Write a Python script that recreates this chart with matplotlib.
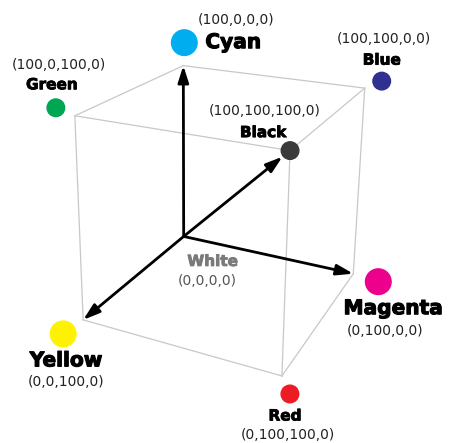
import numpy as np
import matplotlib.pyplot as plt
import matplotlib.patheffects as pe
from matplotlib.patches import Circle

# CMYK colour cube: corners and their ink values
names = ['White', 'Cyan', 'Magenta', 'Yellow', 'Blue', 'Green', 'Red', 'Black']
cmyk = [(0, 0, 0, 0), (100, 0, 0, 0), (0, 100, 0, 0), (0, 0, 100, 0),
        (100, 100, 0, 0), (100, 0, 100, 0), (0, 100, 100, 0), (100, 100, 100, 0)]
dot_colors = [None, '#00aeef', '#ec008c', '#fff200', '#2e3192', '#00a651', '#ed1c24', '#3a3a3a']
big = ['Cyan', 'Magenta', 'Yellow']

# camera: (c, m, y in 0..1, 1) -> pixel, perspective view of the cube
P = np.array([[-11.2752, 138.9504, -115.3026, 183.6760],
              [-174.7018, 13.4880, 26.5620, 236.4382],
              [-0.0595, -0.0868, -0.1778, 1.0]])


def project(v):
    h = P @ np.array([v[0] / 100, v[1] / 100, v[2] / 100, 1.0])
    return h[:2] / h[2]


# layout: dot offset from corner, name offset and coords offset from dot (pixels)
dot_off = {'White': (0, 0), 'Cyan': (1, -23), 'Magenta': (25, 8), 'Yellow': (-20, 14),
           'Blue': (17, -7), 'Green': (-19, -8), 'Red': (8, 18), 'Black': (0, 0)}
name_off = {'White': (29, 25), 'Cyan': (21, 0), 'Magenta': (15, 27), 'Yellow': (3, 27),
            'Blue': (0, -21), 'Green': (-4, -23), 'Red': (-5, 22), 'Black': (-27, -18)}
code_off = {'White': (24, 45), 'Cyan': (52, -23), 'Magenta': (7, 49), 'Yellow': (3, 48),
            'Blue': (2, -42), 'Green': (3, -43), 'Red': (-2, 41), 'Black': (-25, -40)}

fig = plt.figure(figsize=(4.5, 4.43), dpi=100)
ax = fig.add_axes([0, 0, 1, 1])
ax.set_xlim(0, 450)
ax.set_ylim(443, 0)
ax.axis('off')

corners = {n: project(v) for n, v in zip(names, cmyk)}

# cube edges: corners that differ in one ink only
for i in range(len(names)):
    for j in range(i + 1, len(names)):
        d = sum(abs(a - b) for a, b in zip(cmyk[i][:3], cmyk[j][:3]))
        if d == 100 and 'White' not in (names[i], names[j]):
            p1, p2 = corners[names[i]], corners[names[j]]
            ax.plot([p1[0], p2[0]], [p1[1], p2[1]], color='#c8c8c8', lw=0.9, zorder=1)

# arrows out of white
for n in ['Cyan', 'Magenta', 'Yellow', 'Black']:
    ax.annotate('', xy=corners[n], xytext=corners['White'],
                arrowprops=dict(arrowstyle='-|>,head_length=1.0,head_width=0.32',
                                color='black', lw=2.0, shrinkA=0,
                                shrinkB=7 if n == 'Black' else 0),
                zorder=3)

for n, col in zip(names, dot_colors):
    x, y = corners[n] + np.array(dot_off[n])
    if col is not None:
        r = 12.8 if n in big else 8.8
        ax.add_patch(Circle((x, y), r, color=col, zorder=4))
    fs = 14.5 if n in big else 11
    tcol = '#7a7a7a' if n == 'White' else 'black'
    ccol = '#555555' if n == 'White' else '#222222'
    ha = 'left' if n == 'Cyan' else 'center'
    ax.text(x + name_off[n][0], y + name_off[n][1], n, fontsize=fs, fontweight='bold',
            color=tcol, ha=ha, va='center', zorder=5,
            path_effects=[pe.withStroke(linewidth=0.8 if n in big else 0.6, foreground=tcol)])
    v = cmyk[names.index(n)]
    ax.text(x + code_off[n][0], y + code_off[n][1], '(%d,%d,%d,%d)' % v,
            fontsize=10, color=ccol, ha='center', va='center', zorder=5)

fig.savefig('out.png')
